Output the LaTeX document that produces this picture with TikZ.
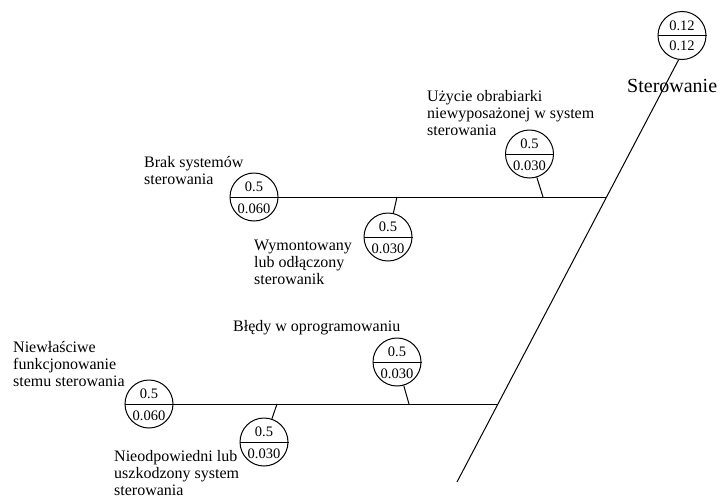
\documentclass[tikz,border=0pt]{standalone}
\usepackage{fontspec}
\setmainfont{Liberation Serif}
\usetikzlibrary{calc}
\tikzset{
  pc/.style={circle, draw, line width=1pt, minimum size=48pt, inner sep=0pt},
  num/.style={font=\fontsize{14.5}{16}\selectfont, inner sep=0pt},
  lbl/.style={font=\fontsize{16}{17.3}\selectfont, align=left, inner sep=0pt, anchor=base west},
  ln/.style={line width=1pt},
}
\newcommand{\probcirc}[5]{%
  \node[pc] (#1) at (#2) {};
  \draw[ln] (#1.west) -- (#1.east);
  \node[num, anchor=base] (#1-t) at ($(#1)+(0,-5.5)$) {#3};
  \node[num, anchor=base] (#1-b) at ($(#1)+(0,#5)$) {#4};
}
\begin{document}
\begin{tikzpicture}[x=1pt, y=-1pt]
\useasboundingbox (0,0) rectangle (720,498);
% circles
\probcirc{T}{682,35.5}{0.12}{0.12}{15}
\probcirc{A}{254,197}{0.5}{0.060}{16.5}
\probcirc{B}{529.5,154}{0.5}{0.030}{16.5}
\probcirc{W}{388,237}{0.5}{0.030}{16.5}
\probcirc{L}{397,362}{0.5}{0.030}{16.5}
\probcirc{N}{149,404}{0.5}{0.060}{16.5}
\probcirc{D}{264,442}{0.5}{0.030}{16.5}
% spine
\coordinate (S) at (457,482);
\coordinate (J1) at (605.9,197);
\coordinate (J2) at (497.7,404);
\draw[ln] (T.-98) -- (S);
% branches
\draw[ln] (A.east) -- (J1);
\draw[ln] (N.east) -- (J2);
\coordinate (b1) at (543,197);
\coordinate (w1) at (397,197);
\coordinate (l1) at (409,404);
\coordinate (d1) at (277,404);
\draw[ln] (B) -- (b1);
\draw[ln] (W) -- (w1);
\draw[ln] (L) -- (l1);
\draw[ln] (D) -- (d1);
% labels (base anchor = baseline of last line)
\node[lbl, font=\fontsize{20}{22}\selectfont] (tS) at (627,92) {Sterowanie};
\node[lbl] (tB) at (427,135.6) {Użycie obrabiarki\\niewyposażonej w system\\sterowania};
\node[lbl] (tA) at (144,184.3) {Brak systemów\\sterowania};
\node[lbl] (tW) at (254,284.6) {Wymontowany\\lub odłączony\\sterowanik};
\node[lbl] (tL) at (233,331) {Błędy w oprogramowaniu};
\node[lbl] (tN) at (13,386.6) {Niewłaściwe\\funkcjonowanie\\stemu sterowania};
\node[lbl] (tD) at (114,495.6) {Nieodpowiedni lub\\uszkodzony system\\sterowania};
\end{tikzpicture}
\end{document}
